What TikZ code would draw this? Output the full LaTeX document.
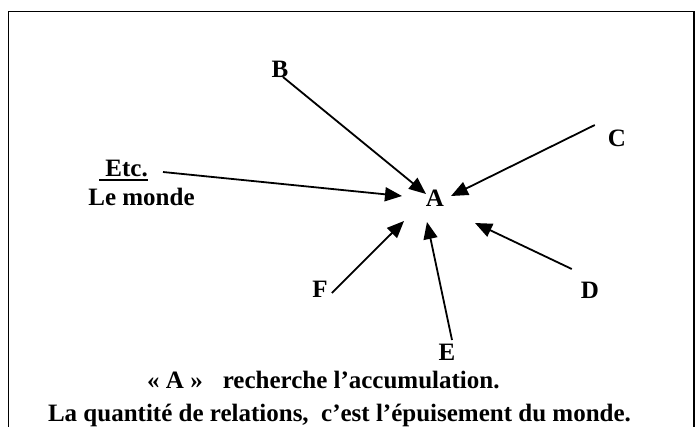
\documentclass[tikz,border=0pt]{standalone}
\usepackage{fontspec}
\setmainfont{Liberation Serif}
\usetikzlibrary{arrows.meta}

\tikzset{
  lettre/.style={font=\fontsize{25}{30}\selectfont\bfseries, inner sep=0pt, anchor=base},
  fleche/.style={line width=1.8pt, -{Triangle[length=17pt,width=14pt]}},
}

\begin{document}
\begin{tikzpicture}[x=1pt,y=-1pt]
\useasboundingbox (0,0) rectangle (696,426);
\begin{scope}
  \clip (0,0) rectangle (696,426);
  \draw[line width=1.5pt] (8.5,11.5) rectangle (694,470);
\end{scope}

% centre
\node[lettre] (A) at (435,206) {A};

% around A
\node[lettre] (B) at (280,77) {B};
\node[lettre] (C) at (617,146) {C};
\node[lettre] (D) at (590,298) {D};
\node[lettre] (E) at (447,360) {E};
\node[lettre] (F) at (320,297) {F};
\node[lettre] (etc) at (123.5,176) {\ Etc.};
\node[lettre] (monde) at (141.5,205) {Le monde};
\draw[line width=2pt] ([yshift=-4]etc.base west) -- ([yshift=-4]etc.base east);

% where the arrows stop
\coordinate (tipB) at (426,194);
\coordinate (tipC) at (451,196);
\coordinate (tipD) at (475,223);
\coordinate (tipE) at (427,222);
\coordinate (tipF) at (404,221);
\coordinate (tipEtc) at (402,196);

\draw[fleche] ([xshift=3]B.base) -- (tipB);
\draw[fleche] ([shift={(-13,-21)}]C.base west) -- (tipC);
\draw[fleche] ([shift={(-9,-29)}]D.base west) -- (tipD);
\draw[fleche] ([shift={(5,-20)}]E.base) -- (tipE);
\draw[fleche] ([shift={(4,-4)}]F.base east) -- (tipF);
\draw[fleche] ([shift={(15,-4)}]etc.base east) -- (tipEtc);

% the two lines of text
\node[lettre, anchor=base west] (phrase) at (147,388) {«\ A\ »\hspace{20pt}recherche l’accumulation.};
\node[lettre] (quantite) at (339.5,421) {La quantité de relations,\ \ c’est l’épuisement du monde.};
\end{tikzpicture}
\end{document}
